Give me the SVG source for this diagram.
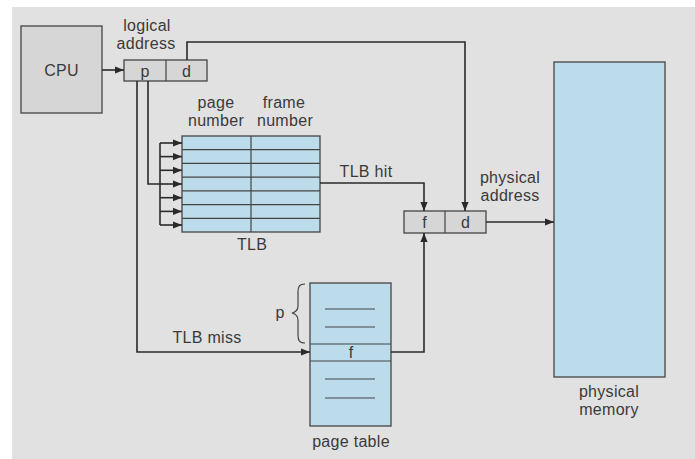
<svg xmlns="http://www.w3.org/2000/svg" width="695" height="459" viewBox="0 0 695 459">
<defs>
<style>
text{font-family:"Liberation Sans",Arial,sans-serif;font-size:16px;letter-spacing:0.3px;fill:#3a3a3a;text-anchor:middle}
.box{fill:#d6d6d6;stroke:#444;stroke-width:1.3}
.blue{fill:#bcdcec;stroke:#444;stroke-width:1.3}
.ln{fill:none;stroke:#2a2a2a;stroke-width:1.6}
.thin{fill:none;stroke:#444;stroke-width:1.2}
</style>
<marker id="ah" viewBox="0 0 10 10" refX="10" refY="5" markerWidth="9" markerHeight="9" markerUnits="userSpaceOnUse" orient="auto">
<path d="M0,1 L10,5 L0,9 Z" fill="#2a2a2a"/>
</marker>
</defs>
<rect x="0" y="0" width="695" height="459" fill="#ffffff"/>
<rect x="12" y="7" width="683" height="452" fill="#e1e1e1"/>

<g id="cpu">
<rect class="box" x="21" y="26" width="81" height="87"/>
<text x="61.5" y="76">CPU</text>
</g>

<g id="logical-address">
<text x="147" y="31">logical</text>
<text x="146" y="49">address</text>
<rect class="box" x="124" y="60" width="83" height="21"/>
<line class="thin" x1="166" y1="60" x2="166" y2="81"/>
<text x="145" y="76.5">p</text>
<text x="186.5" y="76.5">d</text>
</g>

<g id="tlb">
<text x="216" y="108">page</text>
<text x="216" y="126">number</text>
<text x="284" y="108">frame</text>
<text x="285" y="126">number</text>
<rect class="blue" x="182" y="136" width="138" height="96"/>
<g class="thin">
<line x1="251" y1="136" x2="251" y2="232"/>
<line x1="182" y1="149.7" x2="320" y2="149.7"/>
<line x1="182" y1="163.4" x2="320" y2="163.4"/>
<line x1="182" y1="177.1" x2="320" y2="177.1"/>
<line x1="182" y1="190.9" x2="320" y2="190.9"/>
<line x1="182" y1="204.6" x2="320" y2="204.6"/>
<line x1="182" y1="218.3" x2="320" y2="218.3"/>
</g>
<text x="252" y="250">TLB</text>
</g>

<g id="physical-address">
<text x="510" y="183">physical</text>
<text x="510" y="201">address</text>
<rect class="box" x="404" y="211" width="82" height="22"/>
<line class="thin" x1="445" y1="211" x2="445" y2="233"/>
<text x="424.5" y="228">f</text>
<text x="465.5" y="228">d</text>
</g>

<g id="page-table">
<rect class="blue" x="310" y="283" width="81" height="143"/>
<line class="thin" x1="310" y1="344" x2="391" y2="344"/>
<line class="thin" x1="310" y1="361" x2="391" y2="361"/>
<g class="thin">
<line x1="325" y1="309" x2="375" y2="309"/>
<line x1="325" y1="327" x2="375" y2="327"/>
<line x1="325" y1="379" x2="375" y2="379"/>
<line x1="325" y1="398" x2="375" y2="398"/>
</g>
<text x="351" y="358">f</text>
<path class="thin" d="M305,284 C299,284 298,287 298,292 L298,306 C298,310 296,312 292,313 C296,314 298,316 298,320 L298,335 C298,340 299,343 305,343"/>
<text x="280" y="318">p</text>
<text x="351" y="447">page table</text>
</g>

<g id="physical-memory">
<rect class="blue" x="554" y="62" width="111" height="315"/>
<text x="609" y="397">physical</text>
<text x="609" y="415">memory</text>
</g>

<g id="connectors">
<line class="ln" x1="102" y1="70" x2="124" y2="70" marker-end="url(#ah)"/>
<polyline class="ln" points="187,60 187,42 465,42 465,211" marker-end="url(#ah)"/>
<polyline class="ln" points="148,81 148,184 160,184"/>
<line class="ln" x1="160" y1="143" x2="160" y2="225"/>
<line class="ln" x1="160" y1="143" x2="182" y2="143" marker-end="url(#ah)"/>
<line class="ln" x1="160" y1="156.6" x2="182" y2="156.6" marker-end="url(#ah)"/>
<line class="ln" x1="160" y1="170.3" x2="182" y2="170.3" marker-end="url(#ah)"/>
<line class="ln" x1="160" y1="184" x2="182" y2="184" marker-end="url(#ah)"/>
<line class="ln" x1="160" y1="197.7" x2="182" y2="197.7" marker-end="url(#ah)"/>
<line class="ln" x1="160" y1="211.4" x2="182" y2="211.4" marker-end="url(#ah)"/>
<line class="ln" x1="160" y1="225" x2="182" y2="225" marker-end="url(#ah)"/>
<polyline class="ln" points="320,183 424,183 424,211" marker-end="url(#ah)"/>
<text x="366" y="177">TLB hit</text>
<polyline class="ln" points="137,81 137,352 310,352" marker-end="url(#ah)"/>
<text x="207" y="343">TLB miss</text>
<polyline class="ln" points="391,352 424,352 424,233" marker-end="url(#ah)"/>
<line class="ln" x1="486" y1="222" x2="554" y2="222" marker-end="url(#ah)"/>
</g>
</svg>
